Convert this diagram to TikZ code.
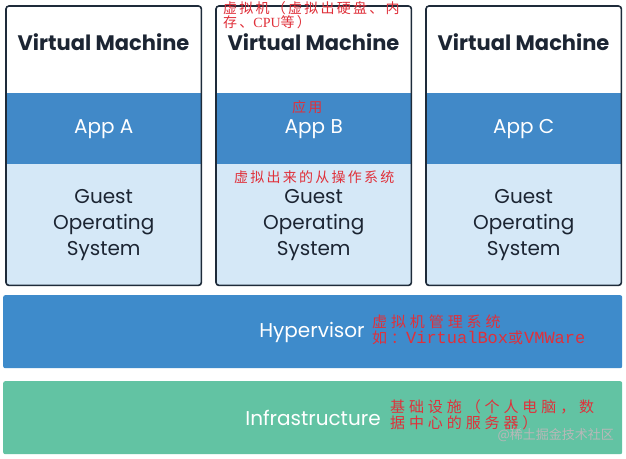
\documentclass[tikz,border=0pt]{standalone}
\usepackage{fontspec}
\setmainfont{Poppins}
\newfontfamily\cjk{Noto Sans CJK SC}
\newfontfamily\cjkS[LetterSpace=16]{Noto Sans CJK SC}
\newfontfamily\cjkB[LetterSpace=26]{Noto Sans CJK SC}
\newfontfamily\latmono{Liberation Mono}
\newfontfamily\latserif{Liberation Serif}
\definecolor{appblue}{HTML}{4189C8}
\definecolor{hypblue}{HTML}{3E8BCB}
\definecolor{osfill}{HTML}{D5E8F7}
\definecolor{infragreen}{HTML}{62C3A3}
\definecolor{border}{HTML}{1E2B3A}
\definecolor{darktext}{HTML}{1C2533}
\definecolor{note}{HTML}{E0303A}
\definecolor{mark}{HTML}{B8B8B8}
\tikzset{
  vmborder/.style={draw=border, line width=1.6pt, rounded corners=3pt},
  topband/.style={fill=white, minimum width=195pt, minimum height=87pt, anchor=north west, inner sep=0pt},
  appband/.style={fill=appblue, minimum width=195pt, minimum height=71pt, anchor=north west, inner sep=0pt,
    text=white, font=\fontsize{20}{22}\selectfont},
  osband/.style={fill=osfill, minimum width=195pt, minimum height=121pt, anchor=north west, inner sep=0pt,
    text=darktext, align=center, font=\fontsize{20}{26}\selectfont},
  vmtitle/.style={text=darktext, font=\fontsize{21}{23}\selectfont\bfseries, inner sep=0pt},
  layer/.style={rounded corners=2pt, minimum width=619pt, minimum height=73pt, anchor=north west, inner sep=0pt},
  layertext/.style={text=white, font=\fontsize{20}{22}\selectfont, inner sep=0pt},
  notesmall/.style={text=note, font=\cjkS\fontsize{14}{14.5}\selectfont, align=left, inner sep=0pt, anchor=west},
  notebig/.style={text=note, font=\cjkB\fontsize{15}{16}\selectfont, align=left, inner sep=0pt, anchor=west},
}
\begin{document}
\begin{tikzpicture}[x=1pt,y=-1pt]
\useasboundingbox (0,0) rectangle (626,458);
\fill[white] (0,0) rectangle (626,458);
\foreach \x/\l [count=\i] in {6/A,216/B,426/C} {
  \node[topband] (top\i) at (\x,6) {};
  \node[osband] (os\i) at (\x,164) {Guest\\Operating\\System};
  \node[appband] (app\i) at (\x,93) {App \l};
  \node[vmtitle] (title\i) at (\x+97.5,42) {Virtual Machine};
  \draw[vmborder] (top\i.north west) rectangle (os\i.south east);
}
\node[layer, fill=hypblue] (hyp) at (3,295) {};
\node[layertext] (hyptext) at (312,332) {Hypervisor};
\node[layer, fill=infragreen] (infra) at (3,381) {};
\node[layertext] (infratext) at (313,418) {Infrastructure};
% annotations
\node[notesmall] (n1) at (223,15) {虚拟机（虚拟出硬盘、内\\存、{\latserif CPU}等）};
\node[notesmall] (n2) at (292,107) {应用};
\node[notesmall] (n3) at (234,177) {虚拟出来的从操作系统};
\node[notebig] (n4) at (372,330) {虚拟机管理系统\\如：{\latmono\fontsize{17}{16}\selectfont VirtualBox}或{\latmono\fontsize{17}{16}\selectfont\hspace{1pt}VMWare}};
\node[notebig] (n5) at (390,415) {基础设施（个人电脑，数\\据中心的服务器）};
\node[text=mark, font=\cjk\fontsize{13}{14}\selectfont, inner sep=0pt, anchor=east] (wm) at (614,435) {@稀土掘金技术社区};
\end{tikzpicture}
\end{document}
